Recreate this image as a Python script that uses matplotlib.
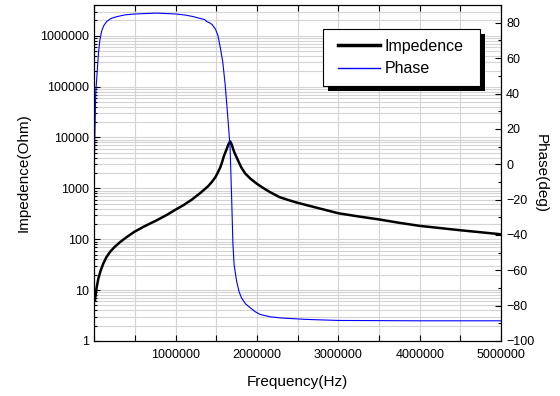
import matplotlib
matplotlib.use('Agg')
import matplotlib.pyplot as plt
from matplotlib.ticker import FixedLocator, MultipleLocator, LogLocator, FuncFormatter, NullFormatter
from matplotlib.patches import Rectangle

plt.rcParams['font.family'] = ['Liberation Sans', 'DejaVu Sans']

# impedance curve
imp_freq = [10000, 30000, 53000, 80000, 114000, 150000, 197000, 250000, 320000, 400000,
            495000, 620000, 770000, 900000, 1000000, 1100000, 1200000, 1300000, 1400000,
            1450000, 1490000, 1520000, 1550000, 1570000, 1590000, 1610000, 1630000,
            1650000, 1670000, 1690000, 1710000, 1730000, 1750000, 1780000, 1810000,
            1855000, 1920000, 2000000, 2080000, 2160000, 2280000, 2400000, 2500000,
            2750000, 3000000, 3250000, 3500000, 3750000, 4000000, 4500000, 5000000]
imp_ohm = [6.2, 11, 17, 24, 33.4, 44, 56.6, 70, 88, 110,
           140, 180, 236, 305, 381, 470, 600, 800, 1100,
           1360, 1660, 2050, 2600, 3200, 4100, 5000, 6000,
           7300, 8400, 7300, 5800, 4800, 4100, 3200, 2550,
           1970, 1550, 1230, 1010, 845, 670, 580, 520,
           410, 324, 280, 245, 210, 183, 150, 125]

# phase curve
ph_freq = [3000, 20000, 53000, 70000, 94000, 120000, 156000, 210000, 280000, 380000,
           500000, 770000, 1000000, 1120000, 1220000, 1300000, 1360000, 1380000, 1420000,
           1450000, 1490000, 1520000, 1550000, 1580000, 1610000, 1640000, 1670000,
           1690000, 1705000, 1720000, 1750000, 1780000, 1810000, 1860000, 1920000,
           1980000, 2040000, 2160000, 2300000, 2600000, 3000000, 4000000, 5000000]
ph_deg = [0, 40, 62.3, 70, 75.5, 78.5, 80.8, 82.5, 83.5, 84.5,
          85, 85.5, 85, 84.4, 83.5, 82.5, 81.8, 80.8, 80,
          79, 76.5, 73, 66, 58, 45, 28, 10,
          -20, -45, -57, -66, -72, -75.6, -79, -81.3,
          -83.5, -85, -86.3, -87, -87.8, -88.4, -88.6, -88.6]

fig = plt.figure(figsize=(5.6, 3.96), dpi=100)
ax = fig.add_axes([0.168, 0.139, 0.727, 0.848])
ax2 = ax.twinx()

l1, = ax.plot(imp_freq, imp_ohm, color='black', lw=1.8, label='Impedence', zorder=3)
l2, = ax2.plot(ph_freq, ph_deg, color='#0000ff', lw=0.8, label='Phase')

ax.set_yscale('log')
ax.set_xlim(0, 5000000)
ax.set_ylim(1, 4e6)
ax2.set_ylim(-100, 90)

ax.xaxis.set_major_locator(FixedLocator([1000000, 2000000, 3000000, 4000000, 5000000]))
ax.xaxis.set_minor_locator(MultipleLocator(500000))
ax.xaxis.set_major_formatter(FuncFormatter(lambda v, p: '%d' % v))
ax.yaxis.set_major_locator(LogLocator(base=10, numticks=20))
ax.yaxis.set_minor_locator(LogLocator(base=10, subs=range(2, 10), numticks=20))
ax.yaxis.set_major_formatter(FuncFormatter(lambda v, p: '%d' % round(v)))
ax.yaxis.set_minor_formatter(NullFormatter())
ax2.yaxis.set_major_locator(MultipleLocator(20))
ax2.yaxis.set_minor_locator(MultipleLocator(10))
ax.xaxis.get_offset_text().set_visible(False)
ax2.xaxis.get_offset_text().set_visible(False)

ax.grid(True, which='both', color='#d4d4d4', lw=0.8)
ax.set_axisbelow(True)

ax.tick_params(which='both', direction='in', top=True, right=False, labelsize=9, width=0.8)
ax.tick_params(axis='x', which='both', length=4, pad=6)
ax.tick_params(axis='y', which='major', length=4)
ax.tick_params(axis='y', which='minor', length=2.5)
ax2.tick_params(which='both', direction='in', labelsize=9, width=0.8)
ax2.tick_params(which='major', length=4)
ax2.tick_params(which='minor', length=2.5)

ax.set_xlabel('Frequency(Hz)', fontsize=11, labelpad=10)
ax.set_ylabel('Impedence(Ohm)', fontsize=11, labelpad=7)
ax2.set_ylabel('Phase(deg)', fontsize=11, rotation=270, labelpad=10)

# legend box with a black drop shadow, drawn by hand
bx, by, bw, bh = 0.563, 0.759, 0.385, 0.17
ax2.add_patch(Rectangle((bx + 0.0123, by - 0.0149), bw, bh, transform=ax2.transAxes,
                        facecolor='black', edgecolor='none', zorder=5))
ax2.add_patch(Rectangle((bx, by), bw, bh, transform=ax2.transAxes,
                        facecolor='white', edgecolor='black', lw=0.8, zorder=5.1))
leg = ax2.legend([l1, l2], ['Impedence', 'Phase'], loc='center',
                 bbox_to_anchor=(0.754, 0.844), fontsize=11.5, frameon=False,
                 handlelength=2.6, handletextpad=0.3, borderpad=0, labelspacing=0.45)
leg.set_zorder(6)
leg.legend_handles[0].set_linewidth(2.5)
leg.legend_handles[1].set_linewidth(1.0)

plt.savefig('out.png', dpi=100)
